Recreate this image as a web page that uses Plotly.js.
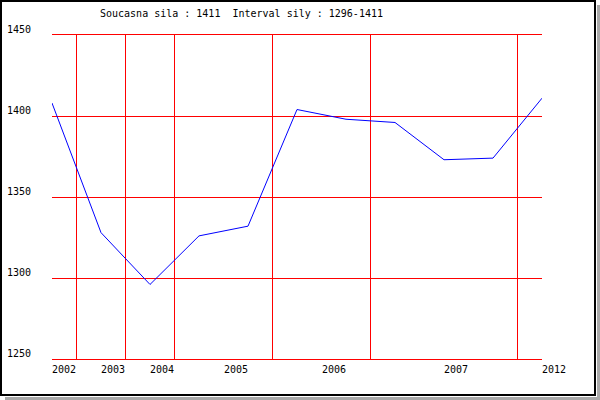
<!DOCTYPE html>
<html>
<head>
<meta charset="utf-8">
<script src="https://cdn.plot.ly/plotly-3.0.1.min.js"></script>
<style>
  html, body { margin: 0; padding: 0; background: #ffffff; }
  #wrap { position: relative; width: 600px; height: 400px; overflow: hidden; background: #ffffff; }
  #shadow { position: absolute; left: 5px; top: 5px; width: 595px; height: 395px; background: #a9a9a9; }
  #panel { position: absolute; left: 0; top: 0; width: 597px; height: 397px; background: #ffffff; }
  #frame { position: absolute; left: 0; top: 0; width: 592px; height: 392px; border: 2px solid #000; background: #ffffff; }
  #chart { position: absolute; left: 0; top: 0; width: 600px; height: 400px; }
</style>
</head>
<body>
<div id="wrap">
  <div id="shadow"></div>
  <div id="panel"></div>
  <div id="frame"></div>
  <div id="chart"></div>
</div>
<script>
// Data
const pointIndex = [0, 1, 2, 3, 4, 5, 6, 7, 8, 9, 10];
const strength   = [1408, 1328, 1296, 1326, 1332, 1404, 1398, 1396, 1373, 1374, 1411];
const yearLabels = ["2002", "2003", "2004", "2005", "2006", "2007", "2012"];
const yearLabelPos = [0, 1, 2, 3.5, 5.5, 8, 10];
const yearDividers = [0.5, 1.5, 2.5, 4.5, 6.5, 9.5];
const yTicks = [1250, 1300, 1350, 1400, 1450];
const titleText = "Soucasna sila : 1411&nbsp;&nbsp;Interval sily : 1296-1411";

const FONT = "DejaVu Sans Mono, monospace";

const annotations = [];
yearLabels.forEach((lab, i) => {
  annotations.push({
    x: yearLabelPos[i], xref: 'x', xanchor: 'left', xshift: -2,
    y: 0, yref: 'paper', yanchor: 'middle', yshift: -10,
    text: lab, showarrow: false,
    font: {family: FONT, size: 10, color: '#000'}
  });
});
yTicks.forEach(v => {
  annotations.push({
    x: -47/490, xref: 'paper', xanchor: 'left',
    y: v, yref: 'y', yanchor: 'middle', yshift: 6,
    text: String(v), showarrow: false,
    font: {family: FONT, size: 10, color: '#000'}
  });
});

const trace = {
  x: pointIndex, y: strength,
  type: 'scatter', mode: 'lines',
  line: {color: '#0000ff', width: 1},
  hoverinfo: 'skip'
};

const layout = {
  width: 600, height: 400,
  margin: {l: 52, r: 58, t: 35, b: 41},
  paper_bgcolor: 'rgba(0,0,0,0)',
  plot_bgcolor: 'rgba(0,0,0,0)',
  showlegend: false,
  title: {
    text: titleText,
    font: {family: FONT, size: 10, color: '#000'},
    xref: 'paper', x: (100 - 52) / 490, xanchor: 'left',
    yref: 'container', y: 1 - 13.5 / 400, yanchor: 'middle'
  },
  xaxis: {
    range: [0, 10], tickvals: yearDividers, showticklabels: false,
    showgrid: true, gridcolor: '#ff0000', gridwidth: 1,
    zeroline: false, showline: true, linecolor: '#ff0000', linewidth: 1, mirror: true,
    ticks: '', fixedrange: true
  },
  yaxis: {
    range: [1250, 1450], tickvals: yTicks, showticklabels: false,
    showgrid: true, gridcolor: '#ff0000', gridwidth: 1,
    zeroline: false, showline: false, ticks: '', fixedrange: true
  },
  annotations: annotations
};

Plotly.newPlot('chart', [trace], layout, {displayModeBar: false, staticPlot: true});
</script>
</body>
</html>
